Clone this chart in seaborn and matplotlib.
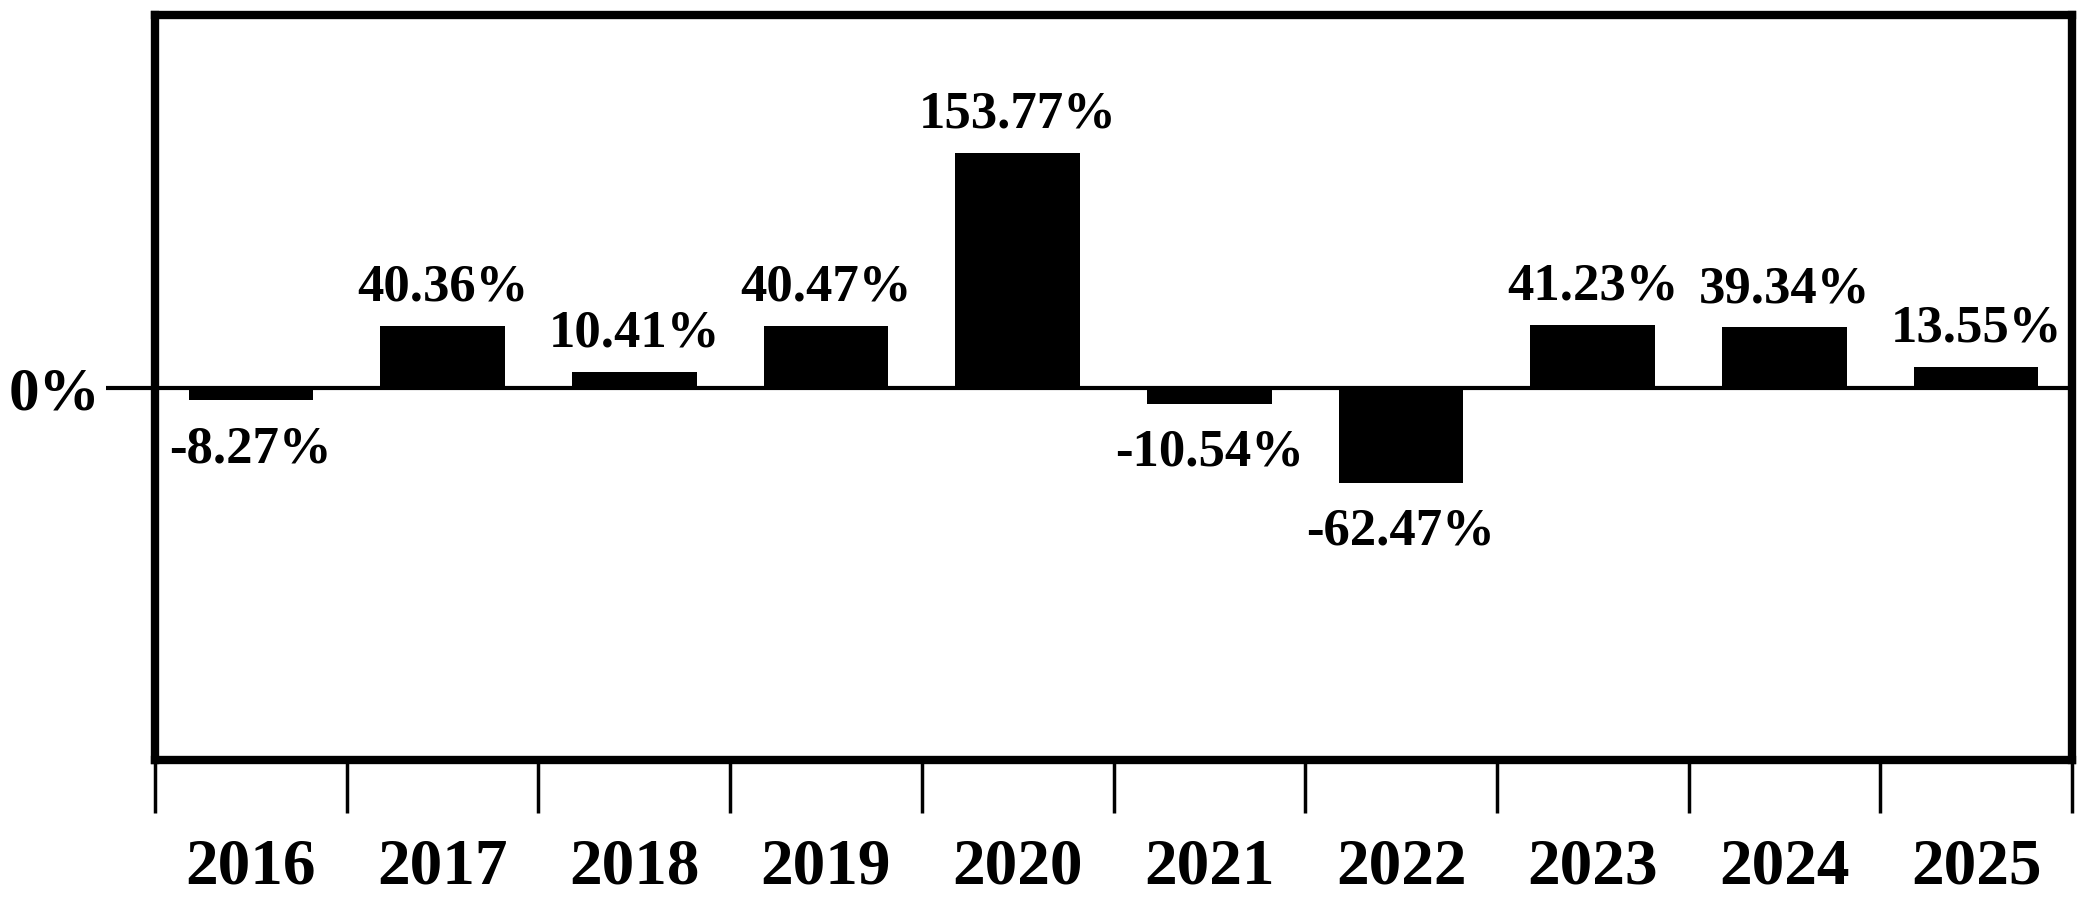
import numpy as np
import pandas as pd

import matplotlib
matplotlib.use('Agg')
import matplotlib.pyplot as plt
import seaborn as sns

YEARS = ['2016', '2017', '2018', '2019', '2020', '2021', '2022', '2023', '2024', '2025']
RETURNS = [-8.27, 40.36, 10.41, 40.47, 153.77, -10.54, -62.47, 41.23, 39.34, 13.55]

sns.set_theme(style='white')
plt.rcParams['font.family'] = ['Liberation Serif', 'DejaVu Serif']
plt.rcParams['font.weight'] = 'bold'
plt.rcParams['text.color'] = 'black'
plt.rcParams['xtick.color'] = 'black'
plt.rcParams['ytick.color'] = 'black'

df = pd.DataFrame({'year': YEARS, 'ret': RETURNS})

fig = plt.figure(figsize=(20.83, 9), dpi=100)
ax = fig.add_axes([155 / 2083, 1 - 760 / 900, (2072 - 155) / 2083, (760 - 15) / 900])

sns.barplot(data=df, x='year', y='ret', color='black', saturation=1,
            width=0.65, linewidth=0, ax=ax)

ax.set_xlim(-0.5, len(YEARS) - 0.5)
ax.set_ylim(-244, 244)
ax.axhline(0, color='black', lw=3, zorder=1)

for s in ax.spines.values():
    s.set_color('black')
    s.set_linewidth(6)

# labels on bars
for bar, v in zip(ax.patches, RETURNS):
    x = bar.get_x() + bar.get_width() / 2
    if v >= 0:
        ax.annotate(f'{v:.2f}%', (x, v), xytext=(0, 10), textcoords='offset points',
                    ha='center', va='bottom', fontsize=38, fontweight='bold', color='black')
    else:
        ax.annotate(f'{v:.2f}%', (x, v), xytext=(0, -18), textcoords='offset points',
                    ha='center', va='top', fontsize=38, fontweight='bold', color='black')

# x: labels at centres, ticks at boundaries
ax.set_xticks(range(len(YEARS)))
ax.set_xticklabels(YEARS, fontsize=47, fontweight='bold', color='black')
ax.set_xticks(np.arange(-0.5, len(YEARS)), minor=True)
ax.tick_params(axis='x', which='major', length=0, pad=56, bottom=True)
ax.tick_params(axis='x', which='minor', length=38, width=2.5, color='black',
               direction='out', bottom=True)

ax.set_yticks([0])
ax.set_yticklabels(['0%'], fontsize=44, fontweight='bold', color='black')
ax.tick_params(axis='y', length=35, width=3, color='black', pad=4, left=True)

ax.set_xlabel('')
ax.set_ylabel('')

fig.savefig('out.png', dpi=100)
